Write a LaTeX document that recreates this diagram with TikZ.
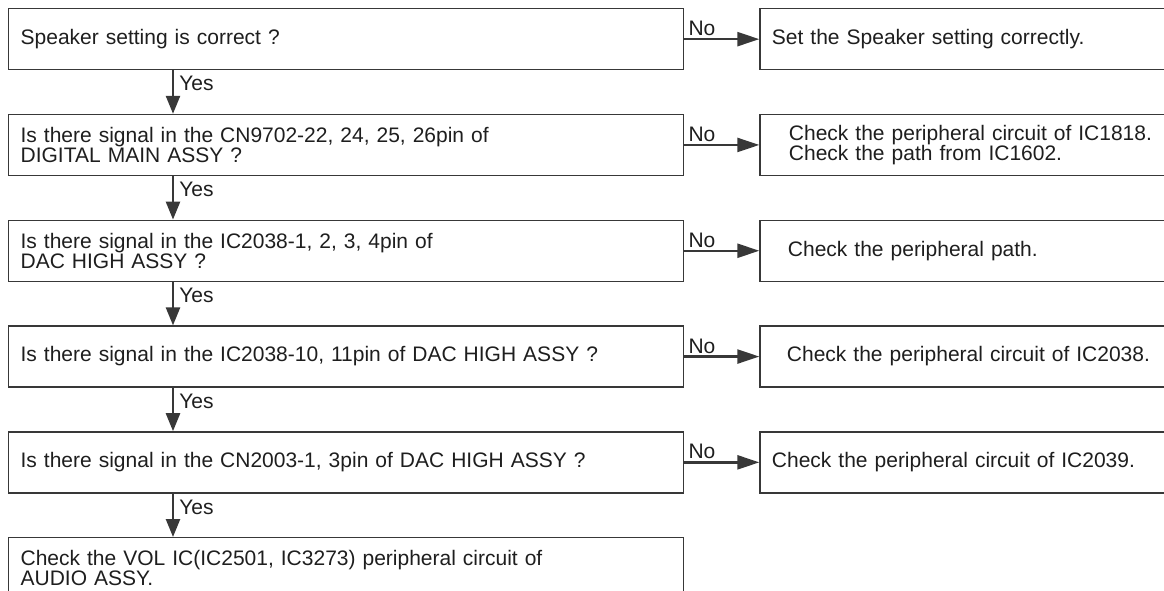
\documentclass[tikz,border=0pt]{standalone}
\usepackage{fontspec}
\setmainfont{Liberation Sans}
\usetikzlibrary{arrows.meta, positioning}
\definecolor{chartLine}{HTML}{383838}
\definecolor{chartText}{HTML}{1E1E1E}

\begin{document}
\begin{tikzpicture}[x=1pt, y=-1pt,
    box/.style={draw=chartLine, line width=1.3pt, rectangle, minimum height=61pt,
        inner ysep=0pt, align=left, text=chartText, font=\fontsize{21}{16.5}\selectfont},
    qbox/.style={box, anchor=north west, text width=651pt, inner xsep=12pt},
    abox/.style={box, text width=381pt, inner xsep=12pt},
    padded/.style={execute at begin node={\leftskip=#1}},
    flow/.style={draw=chartLine, line width=2.5pt},
    lbl/.style={text=chartText, inner sep=1pt, font=\fontsize{21}{21}\selectfont}]
    \useasboundingbox (0,0) rectangle (1164,591);
    \clip (0,0) rectangle (1164,591);
    % question column
    \node[qbox] (q1) at (8,8) {Speaker setting is correct ?};
    \node[qbox, below=43.5pt of q1] (q2) {Is there signal in the CN9702-22, 24, 25, 26pin of\\DIGITAL MAIN ASSY ?};
    \node[qbox, below=43.5pt of q2] (q3) {Is there signal in the IC2038-1, 2, 3, 4pin of\\DAC HIGH ASSY ?};
    \node[qbox, below=43.5pt of q3] (q4) {Is there signal in the IC2038-10, 11pin of DAC HIGH ASSY ?};
    \node[qbox, below=43.5pt of q4] (q5) {Is there signal in the CN2003-1, 3pin of DAC HIGH ASSY ?};
    \node[qbox, below=43.5pt of q5] (q6) {Check the VOL IC(IC2501, IC3273) peripheral circuit of\\AUDIO ASSY.};
    % action column
    \node[abox, right=75pt of q1] (a1) {Set the Speaker setting correctly.};
    \node[abox, padded=17pt, right=75pt of q2] (a2) {Check the peripheral circuit of IC1818.\\Check the path from IC1602.};
    \node[abox, padded=16pt, right=75pt of q3] (a3) {Check the peripheral path.};
    \node[abox, padded=15pt, right=75pt of q4] (a4) {Check the peripheral circuit of IC2038.};
    \node[abox, right=75pt of q5] (a5) {Check the peripheral circuit of IC2039.};
    % connectors
    \foreach \i/\j in {1/2, 2/3, 3/4, 4/5, 5/6}
        \draw[flow, -{Triangle[length=18pt, width=14pt]}] ([xshift=165pt]q\i.south west) -- ([xshift=165pt]q\j.north west)
            node[lbl, pos=0, anchor=north west, xshift=4pt, yshift=-4pt] (yes\i) {Yes};
    \foreach \i in {1,...,5}
        \draw[flow, -{Triangle[length=22pt, width=14pt]}] (q\i.east) -- (a\i.west)
            node[lbl, pos=0, anchor=south west, xshift=2pt, yshift=1pt] (no\i) {No};
\end{tikzpicture}
\end{document}
